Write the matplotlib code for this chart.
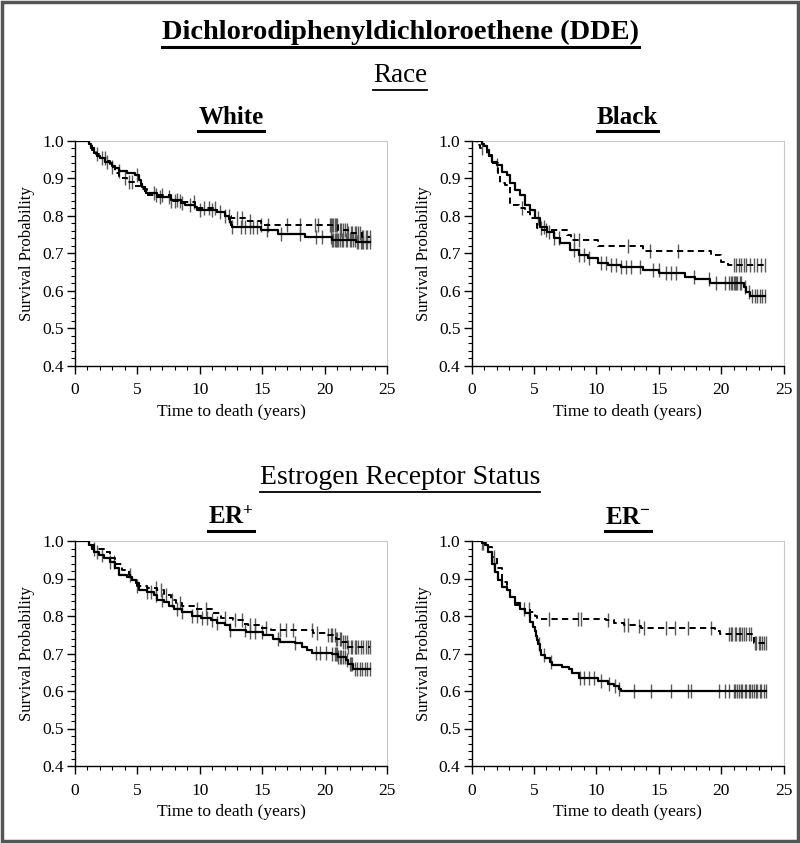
import numpy as np
import matplotlib
matplotlib.use("Agg")
import matplotlib.pyplot as plt
from matplotlib.ticker import MultipleLocator
from matplotlib.lines import Line2D
from matplotlib.patches import Rectangle

plt.rcParams["font.family"] = "Liberation Serif"
plt.rcParams["mathtext.fontset"] = "custom"
plt.rcParams["mathtext.rm"] = "Liberation Serif"
plt.rcParams["mathtext.bf"] = "Liberation Serif:bold"

# Kaplan-Meier step points (time in years, survival after the step)
white_solid_t = [0, 1.1, 1.3, 1.5, 1.8, 2.0, 2.4, 2.8, 3.0, 3.2, 3.5, 4.2, 4.8, 5.1, 5.3, 5.4, 5.6, 5.7,
                 6.6, 7.7, 8.5, 8.8, 9.6, 9.8, 11.4, 12.0, 12.3, 12.4, 12.5, 12.6, 14.9, 16.3, 18.4, 20.6, 22.5]
white_solid_s = [1.0, 0.99, 0.98, 0.966, 0.96, 0.953, 0.944, 0.94, 0.933, 0.926, 0.92, 0.915, 0.908, 0.895, 0.885,
                 0.877, 0.866, 0.86, 0.85, 0.842, 0.835, 0.828, 0.822, 0.815, 0.81, 0.80, 0.79, 0.784, 0.775,
                 0.769, 0.762, 0.751, 0.742, 0.735, 0.73]
white_dash_t = [0, 1.1, 1.4, 1.7, 2.0, 2.6, 2.8, 3.2, 3.5, 4.2, 4.8, 5.3, 5.8, 7.7, 8.5, 9.6, 11.4, 12.0,
                12.5, 13.7, 14.9, 21.1, 21.9, 23.0]
white_dash_s = [1.0, 0.99, 0.975, 0.965, 0.955, 0.945, 0.93, 0.915, 0.90, 0.89, 0.88, 0.87, 0.855, 0.84,
                0.836, 0.82, 0.81, 0.80, 0.795, 0.785, 0.776, 0.762, 0.753, 0.744]
white_solid_cens = [2.2, 2.6, 3.5, 5.0, 6.3, 6.8, 7.5, 8.2, 8.6, 9.2, 10.0, 11.0, 12.6, 13.3, 13.6, 14.0, 14.3,
                    14.6, 15.4, 16.5, 18.0, 19.3, 19.8, 20.5, 20.6, 20.7, 20.8, 20.9, 21.0, 21.1, 21.2, 21.4,
                    21.5, 21.7, 21.8, 22.0, 22.1, 22.3, 22.4, 22.6, 22.7, 22.9, 23.0, 23.1, 23.3, 23.4, 23.6]
white_dash_cens = [1.8, 2.4, 3.0, 4.0, 4.3, 4.6, 6.5, 7.0, 7.7, 8.0, 8.4, 9.5, 10.3, 10.7, 11.2, 11.6, 12.0,
                   12.3, 13.0, 13.4, 14.0, 14.9, 15.5, 17.0, 18.0, 19.2, 19.5, 20.4, 20.5, 20.6, 20.7, 20.8,
                   20.9, 21.0, 21.2, 21.3, 21.5, 21.6, 21.8, 21.9, 22.1, 22.2, 22.4, 22.5, 22.7, 22.8, 23.0,
                   23.1, 23.3, 23.4, 23.6]

black_solid_t = [0, 0.8, 1.0, 1.2, 1.4, 1.6, 2.0, 2.4, 2.8, 3.1, 3.5, 3.9, 4.3, 4.7, 5.1, 5.5, 6.05, 6.6,
                 7.1, 7.9, 8.6, 9.3, 10.1, 10.9, 12.0, 13.7, 15.05, 17.1, 17.9, 19.1, 21.8, 22.0, 22.3]
black_solid_s = [1.0, 0.99, 0.985, 0.975, 0.96, 0.944, 0.935, 0.917, 0.908, 0.886, 0.868, 0.855, 0.828,
                 0.815, 0.793, 0.77, 0.757, 0.74, 0.726, 0.708, 0.695, 0.686, 0.673, 0.668, 0.664, 0.655,
                 0.648, 0.637, 0.63, 0.62, 0.61, 0.597, 0.585]
black_dash_t = [0, 0.4, 0.7, 1.2, 1.6, 2.15, 2.3, 2.7, 3.1, 3.8, 4.3, 4.7, 5.25, 5.65, 7.65, 7.95, 10.1,
                13.7, 19.2, 20.0, 20.55]
black_dash_s = [1.0, 0.988, 0.98, 0.962, 0.94, 0.91, 0.886, 0.882, 0.828, 0.82, 0.81, 0.793, 0.766, 0.763,
                0.748, 0.735, 0.72, 0.707, 0.695, 0.677, 0.668]
black_solid_cens = [2.0, 5.3, 5.8, 6.2, 6.6, 7.0, 8.2, 8.6, 9.0, 9.4, 10.4, 10.8, 11.2, 11.6, 12.0, 12.4,
                    12.8, 13.5, 14.5, 15.0, 15.6, 16.0, 16.4, 17.8, 19.0, 19.6, 20.3, 20.6, 20.8, 20.9, 21.0,
                    21.1, 21.2, 21.3, 21.5, 21.6, 21.9, 22.2, 22.5, 22.7, 22.9, 23.1, 23.3, 23.5]
black_dash_cens = [0.8, 4.0, 5.6, 6.0, 8.2, 8.6, 12.5, 14.3, 16.5, 21.0, 21.2, 21.4, 21.6, 21.8, 22.0, 22.3,
                   22.6, 22.9, 23.2, 23.5]

erpos_solid_t = [0, 1.1, 1.35, 1.5, 1.9, 2.3, 2.8, 3.2, 3.5, 4.2, 4.6, 4.85, 5.1, 5.8, 6.3, 6.6, 7.1, 7.5,
                 7.9, 8.6, 9.4, 10.1, 10.9, 11.4, 12.0, 12.4, 13.7, 15.1, 15.9, 16.4, 17.6, 18.2, 18.6, 19.0,
                 20.6, 21.1, 21.7, 21.9, 22.3]
erpos_solid_s = [1.0, 0.99, 0.98, 0.972, 0.963, 0.954, 0.945, 0.927, 0.909, 0.905, 0.897, 0.888, 0.87,
                 0.865, 0.856, 0.844, 0.838, 0.826, 0.818, 0.812, 0.80, 0.794, 0.789, 0.782, 0.776, 0.764,
                 0.758, 0.75, 0.74, 0.732, 0.727, 0.718, 0.71, 0.702, 0.70, 0.692, 0.683, 0.672, 0.658]
erpos_dash_t = [0, 1.1, 1.5, 2.3, 2.8, 3.2, 3.8, 4.3, 4.6, 5.0, 5.8, 6.6, 7.1, 7.7, 8.1, 8.6, 9.7, 11.0,
                11.7, 12.7, 13.5, 13.9, 14.9, 15.7, 19.1, 20.3, 20.9, 21.4, 21.9]
erpos_dash_s = [1.0, 0.99, 0.98, 0.972, 0.954, 0.94, 0.923, 0.909, 0.897, 0.879, 0.875, 0.87, 0.856, 0.843,
                0.834, 0.826, 0.82, 0.807, 0.796, 0.789, 0.78, 0.776, 0.767, 0.762, 0.756, 0.749, 0.74,
                0.732, 0.718]
erpos_solid_cens = [1.8, 2.2, 2.8, 3.1, 5.8, 6.1, 6.5, 7.0, 8.2, 8.6, 9.4, 9.8, 10.2, 10.6, 11.0, 11.4,
                    12.4, 13.6, 14.0, 14.4, 15.0, 16.3, 17.6, 19.3, 19.6, 20.1, 20.6, 20.8, 20.9, 21.0, 21.1,
                    21.2, 21.3, 21.5, 21.6, 21.8, 22.0, 22.1, 22.2, 22.4, 22.6, 22.8, 23.0, 23.2, 23.4, 23.6]
erpos_dash_cens = [1.5, 4.4, 5.0, 6.5, 6.9, 7.3, 7.8, 8.4, 9.8, 10.5, 12.0, 12.8, 13.4, 14.0, 14.4, 15.3,
                   16.4, 16.9, 17.5, 19.0, 19.4, 20.3, 20.5, 20.6, 20.8, 20.9, 21.0, 21.2, 21.3, 21.5, 21.6,
                   21.8, 21.9, 22.1, 22.2, 22.4, 22.5, 22.7, 22.9, 23.1, 23.3, 23.5, 23.6]

erneg_solid_t = [0, 0.8, 1.1, 1.35, 1.6, 1.9, 2.15, 2.45, 2.8, 3.1, 3.5, 3.9, 4.3, 4.7, 4.95, 5.05, 5.15,
                 5.25, 5.35, 5.45, 5.55, 5.9, 6.3, 6.45, 7.25, 7.8, 8.05, 8.6, 10.1, 10.9, 11.4, 11.8, 11.95]
erneg_solid_s = [1.0, 0.995, 0.99, 0.972, 0.94, 0.918, 0.896, 0.878, 0.87, 0.852, 0.834, 0.82, 0.807, 0.785,
                 0.772, 0.76, 0.748, 0.736, 0.725, 0.71, 0.696, 0.687, 0.678, 0.67, 0.665, 0.658, 0.647,
                 0.634, 0.627, 0.62, 0.613, 0.605, 0.60]
erneg_dash_t = [0, 0.8, 1.2, 1.6, 2.0, 2.4, 2.8, 3.1, 3.5, 3.9, 4.7, 5.1, 5.25, 10.75, 11.4, 12.2, 13.2,
                13.6, 19.5, 19.9, 22.45, 22.65]
erneg_dash_s = [1.0, 0.995, 0.985, 0.958, 0.927, 0.892, 0.87, 0.852, 0.83, 0.818, 0.812, 0.80, 0.791,
                0.789, 0.782, 0.776, 0.773, 0.767, 0.76, 0.751, 0.744, 0.727]
erneg_solid_cens = [0.9, 1.8, 5.4, 5.8, 6.4, 8.7, 9.0, 9.4, 9.8, 10.4, 11.0, 11.5, 11.8, 13.0, 14.4, 16.0,
                    17.3, 17.6, 19.8, 20.3, 20.6, 21.0, 21.1, 21.3, 21.4, 21.6, 21.7, 21.9, 22.0, 22.2,
                    22.3, 22.5, 22.6, 22.8, 22.9, 23.1, 23.2, 23.4, 23.6]
erneg_dash_cens = [0.8, 1.8, 4.2, 4.6, 6.2, 8.5, 8.8, 10.9, 12.2, 12.5, 13.4, 13.8, 15.6, 16.3, 17.3, 19.2,
                   20.6, 20.8, 20.9, 21.1, 21.2, 21.4, 21.5, 21.7, 21.8, 22.0, 22.2, 22.4, 22.7, 22.8,
                   23.0, 23.1, 23.3, 23.4, 23.6]

panel_titles = ["White", "Black", r"$\mathbf{ER^{+}}$", r"$\mathbf{ER^{-}}$"]
x_ticks = [0, 5, 10, 15, 20, 25]
y_ticks = [0.4, 0.5, 0.6, 0.7, 0.8, 0.9, 1.0]

panels = [
    (white_solid_t, white_solid_s, white_solid_cens, white_dash_t, white_dash_s, white_dash_cens),
    (black_solid_t, black_solid_s, black_solid_cens, black_dash_t, black_dash_s, black_dash_cens),
    (erpos_solid_t, erpos_solid_s, erpos_solid_cens, erpos_dash_t, erpos_dash_s, erpos_dash_cens),
    (erneg_solid_t, erneg_solid_s, erneg_solid_cens, erneg_dash_t, erneg_dash_s, erneg_dash_cens),
]


def km_at(times, surv, t):
    idx = np.searchsorted(times, t, side="right") - 1
    return np.asarray(surv)[idx]


def draw_km(ax, times, surv, cens, ls, lw):
    end = max(max(cens), times[-1])
    ax.step(list(times) + [end], list(surv) + [surv[-1]], where="post",
            color="black", linestyle=ls, lw=lw, zorder=3)
    ax.plot(cens, km_at(times, surv, np.asarray(cens)), linestyle="none", marker="|",
            ms=10, mew=1.0, color="#5a5a5a", zorder=2)


fig = plt.figure(figsize=(8.0, 8.43), dpi=100)

W, H = 800, 843
lefts = [75, 471.6]
tops = [140.7, 541]
positions = [(lefts[0], tops[0]), (lefts[1], tops[0]), (lefts[0], tops[1]), (lefts[1], tops[1])]

underlines = []

for k, (px, py) in enumerate(positions):
    ax = fig.add_axes([px / W, 1 - (py + 225) / H, 312 / W, 225 / H])
    st, ss, sc, dt, ds, dc = panels[k]
    draw_km(ax, dt, ds, dc, (0, (3.2, 2.2)), 1.4)
    draw_km(ax, st, ss, sc, "-", 1.6)
    ax.set_xlim(0, 25)
    ax.set_ylim(0.4, 1.0)
    ax.set_xticks(x_ticks)
    ax.set_yticks(y_ticks)
    ax.set_yticklabels([f"{v:.1f}" for v in y_ticks])
    ax.xaxis.set_minor_locator(MultipleLocator(1))
    ax.yaxis.set_minor_locator(MultipleLocator(0.02))
    ax.tick_params(which="major", length=6, width=1, labelsize=12.5)
    ax.tick_params(axis="x", which="major", pad=6)
    ax.tick_params(axis="y", which="major", pad=2)
    ax.tick_params(which="minor", length=3, width=0.8)
    for side in ["top", "right"]:
        ax.spines[side].set_color("#c8c8c8")
        ax.spines[side].set_linewidth(0.8)
    for side in ["left", "bottom"]:
        ax.spines[side].set_linewidth(1.0)
    ax.set_xlabel("Time to death (years)", fontsize=12.5, labelpad=4)
    ax.set_ylabel("Survival Probability", fontsize=12, labelpad=5)
    cx = (px + 156) / W
    t = fig.text(cx, 1 - (py - 23.5) / H, panel_titles[k], ha="center", va="center",
                 fontsize=18, fontweight="bold")
    underlines.append((t, 2.2))

t1 = fig.text(0.5, 1 - 32 / H, "Dichlorodiphenyldichloroethene (DDE)", ha="center", va="center",
              fontsize=20.5, fontweight="bold")
t2 = fig.text(0.5, 1 - 75 / H, "Race", ha="center", va="center", fontsize=19.5)
t3 = fig.text(0.5, 1 - 478 / H, "Estrogen Receptor Status", ha="center", va="center", fontsize=20)
underlines += [(t1, 2.2), (t2, 1.3), (t3, 1.3)]

fig.canvas.draw()
inv = fig.transFigure.inverted()
for txt, lw in underlines:
    bb = txt.get_window_extent().transformed(inv)
    y = bb.y0 - 2.0 / H
    fig.add_artist(Line2D([bb.x0, bb.x1], [y, y], color="black", lw=lw, transform=fig.transFigure))

fig.patches.append(Rectangle((0.002, 0.002), 0.996, 0.996, transform=fig.transFigure,
                             fill=False, edgecolor="#555555", lw=2.5))

fig.savefig("out.png", dpi=100)
